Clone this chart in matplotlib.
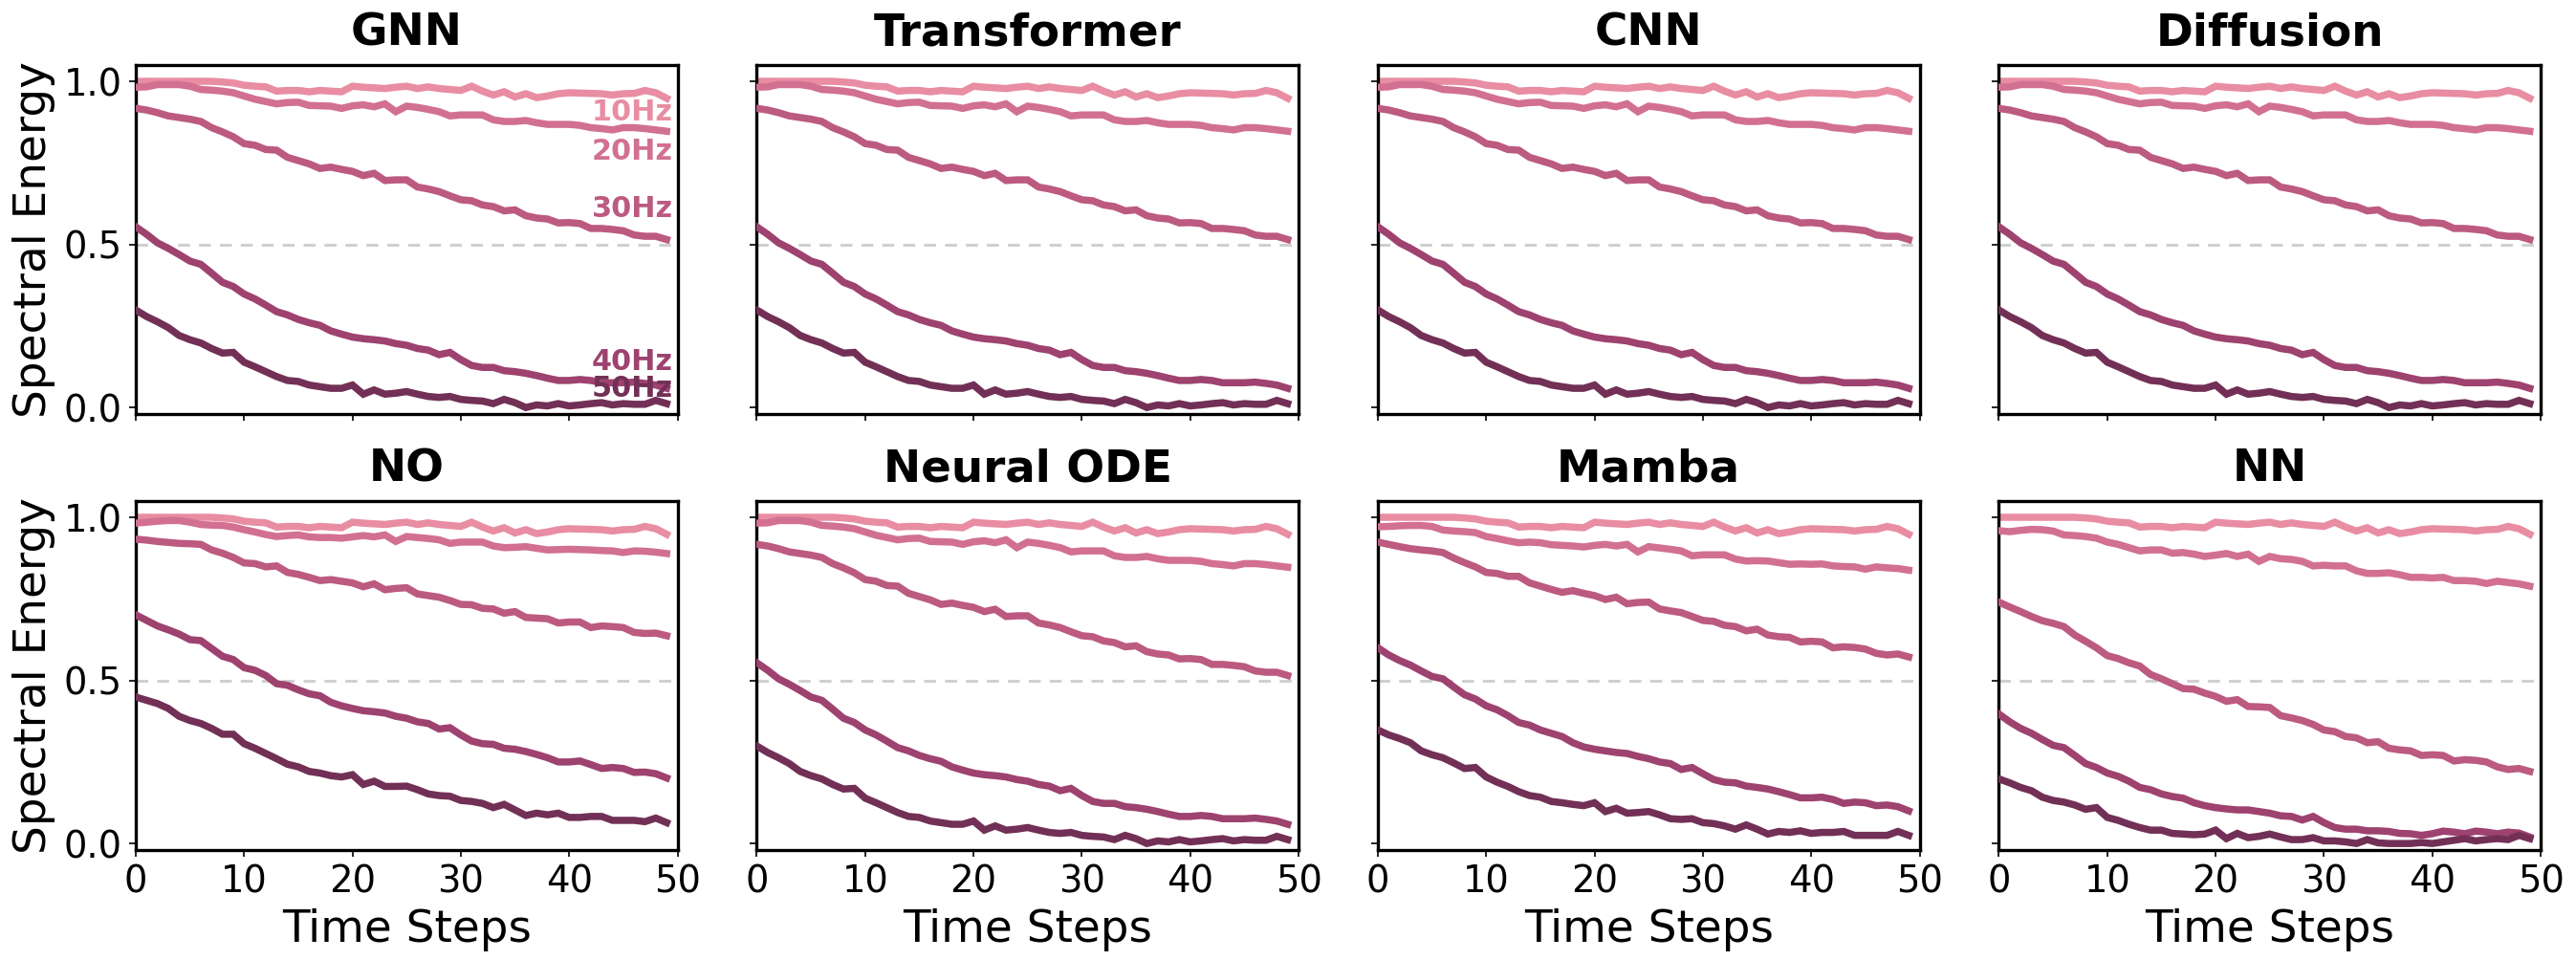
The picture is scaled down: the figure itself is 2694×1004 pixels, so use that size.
import numpy as np
import matplotlib
matplotlib.use("Agg")
import matplotlib.pyplot as plt

plt.rcParams['font.family'] = ['DejaVu Sans']

models = ["GNN", "Transformer", "CNN", "Diffusion", "NO", "Neural ODE", "Mamba", "NN"]
freq_labels = ["10Hz", "20Hz", "30Hz", "40Hz", "50Hz"]
colors = ["#E88DA2", "#D27092", "#BC5A80", "#9E426F", "#723056"]
time_steps = np.arange(50)

# shared 10Hz curve
e10 = [1.0, 1.0, 1.0, 1.0, 1.0, 1.0, 1.0, 1.0, 0.998, 0.995,
       0.988, 0.985, 0.983, 0.970, 0.972, 0.972, 0.968, 0.972, 0.970, 0.968,
       0.985, 0.982, 0.980, 0.978, 0.982, 0.985, 0.978, 0.983, 0.978, 0.975,
       0.972, 0.985, 0.970, 0.958, 0.968, 0.952, 0.962, 0.950, 0.955, 0.962,
       0.965, 0.964, 0.963, 0.962, 0.958, 0.962, 0.963, 0.972, 0.965, 0.948]

# GNN-like (GNN, Transformer, CNN, Diffusion, Neural ODE)
gnn_20 = [0.982, 0.983, 0.990, 0.990, 0.990, 0.985, 0.975, 0.973, 0.970, 0.965,
          0.955, 0.945, 0.938, 0.931, 0.935, 0.936, 0.926, 0.925, 0.924, 0.917,
          0.925, 0.928, 0.922, 0.931, 0.907, 0.924, 0.920, 0.914, 0.907, 0.894,
          0.897, 0.897, 0.897, 0.882, 0.877, 0.877, 0.880, 0.873, 0.868, 0.868,
          0.868, 0.865, 0.858, 0.855, 0.851, 0.858, 0.858, 0.855, 0.851, 0.847]
gnn_30 = [0.917, 0.912, 0.904, 0.894, 0.889, 0.884, 0.877, 0.858, 0.845, 0.830,
          0.809, 0.804, 0.791, 0.789, 0.767, 0.757, 0.747, 0.733, 0.737, 0.730,
          0.724, 0.711, 0.718, 0.696, 0.698, 0.698, 0.676, 0.670, 0.662, 0.649,
          0.637, 0.634, 0.621, 0.616, 0.603, 0.606, 0.588, 0.581, 0.578, 0.566,
          0.567, 0.564, 0.549, 0.549, 0.546, 0.542, 0.529, 0.525, 0.525, 0.515]
gnn_40 = [0.554, 0.531, 0.505, 0.488, 0.469, 0.449, 0.439, 0.412, 0.384, 0.371,
          0.348, 0.333, 0.314, 0.294, 0.284, 0.270, 0.260, 0.252, 0.235, 0.225,
          0.216, 0.211, 0.208, 0.204, 0.196, 0.191, 0.181, 0.176, 0.162, 0.169,
          0.147, 0.129, 0.123, 0.123, 0.113, 0.110, 0.105, 0.098, 0.090, 0.083,
          0.083, 0.086, 0.083, 0.076, 0.076, 0.076, 0.078, 0.074, 0.069, 0.059]
gnn_50 = [0.299, 0.279, 0.263, 0.245, 0.221, 0.208, 0.198, 0.181, 0.167, 0.169,
          0.139, 0.125, 0.110, 0.095, 0.083, 0.080, 0.069, 0.064, 0.059, 0.059,
          0.069, 0.041, 0.054, 0.041, 0.044, 0.049, 0.041, 0.034, 0.031, 0.034,
          0.025, 0.022, 0.020, 0.012, 0.025, 0.015, 0.000, 0.008, 0.005, 0.012,
          0.005, 0.008, 0.012, 0.015, 0.008, 0.012, 0.010, 0.010, 0.022, 0.012]

no_20 = [0.982, 0.985, 0.988, 0.990, 0.990, 0.985, 0.978, 0.976, 0.975, 0.970,
         0.962, 0.955, 0.947, 0.941, 0.944, 0.946, 0.940, 0.938, 0.938, 0.936,
         0.940, 0.944, 0.940, 0.946, 0.926, 0.941, 0.938, 0.935, 0.931, 0.920,
         0.924, 0.924, 0.924, 0.912, 0.907, 0.908, 0.910, 0.905, 0.900, 0.901,
         0.902, 0.901, 0.900, 0.898, 0.897, 0.892, 0.897, 0.896, 0.893, 0.889]
no_30 = [0.933, 0.930, 0.926, 0.923, 0.920, 0.919, 0.917, 0.900, 0.890, 0.877,
         0.860, 0.858, 0.848, 0.851, 0.831, 0.825, 0.816, 0.806, 0.809, 0.804,
         0.799, 0.787, 0.796, 0.778, 0.782, 0.784, 0.765, 0.760, 0.755, 0.745,
         0.733, 0.732, 0.721, 0.719, 0.706, 0.711, 0.693, 0.691, 0.689, 0.676,
         0.679, 0.679, 0.662, 0.667, 0.665, 0.662, 0.647, 0.644, 0.645, 0.637]
no_40 = [0.701, 0.684, 0.667, 0.655, 0.642, 0.625, 0.622, 0.598, 0.574, 0.564,
         0.539, 0.531, 0.515, 0.490, 0.485, 0.471, 0.459, 0.453, 0.433, 0.422,
         0.414, 0.407, 0.404, 0.400, 0.390, 0.384, 0.373, 0.368, 0.351, 0.355,
         0.333, 0.314, 0.306, 0.304, 0.292, 0.289, 0.282, 0.273, 0.263, 0.250,
         0.250, 0.253, 0.242, 0.230, 0.233, 0.230, 0.218, 0.219, 0.214, 0.201]
no_50 = [0.449, 0.439, 0.429, 0.414, 0.390, 0.377, 0.368, 0.353, 0.335, 0.335,
         0.306, 0.292, 0.276, 0.260, 0.243, 0.235, 0.221, 0.216, 0.208, 0.204,
         0.211, 0.181, 0.191, 0.175, 0.175, 0.176, 0.165, 0.152, 0.147, 0.145,
         0.132, 0.129, 0.123, 0.110, 0.120, 0.103, 0.086, 0.093, 0.088, 0.093,
         0.080, 0.080, 0.083, 0.083, 0.071, 0.071, 0.071, 0.067, 0.078, 0.064]

mamba_20 = [0.971, 0.972, 0.974, 0.975, 0.975, 0.972, 0.961, 0.958, 0.956, 0.953,
            0.941, 0.935, 0.928, 0.922, 0.924, 0.922, 0.916, 0.914, 0.912, 0.909,
            0.914, 0.917, 0.912, 0.917, 0.894, 0.910, 0.906, 0.902, 0.897, 0.882,
            0.885, 0.885, 0.885, 0.872, 0.866, 0.867, 0.866, 0.861, 0.856, 0.857,
            0.856, 0.857, 0.851, 0.849, 0.848, 0.841, 0.848, 0.845, 0.843, 0.838]
mamba_30 = [0.924, 0.917, 0.910, 0.904, 0.900, 0.897, 0.892, 0.875, 0.861, 0.848,
            0.831, 0.828, 0.819, 0.819, 0.799, 0.789, 0.779, 0.770, 0.775, 0.767,
            0.760, 0.748, 0.755, 0.735, 0.739, 0.740, 0.719, 0.713, 0.708, 0.696,
            0.684, 0.681, 0.669, 0.665, 0.652, 0.657, 0.639, 0.634, 0.632, 0.618,
            0.620, 0.618, 0.600, 0.603, 0.601, 0.596, 0.583, 0.578, 0.581, 0.572]
mamba_40 = [0.600, 0.578, 0.561, 0.547, 0.529, 0.512, 0.505, 0.480, 0.456, 0.443,
            0.422, 0.410, 0.392, 0.371, 0.363, 0.348, 0.338, 0.328, 0.309, 0.296,
            0.289, 0.284, 0.279, 0.276, 0.267, 0.260, 0.250, 0.245, 0.227, 0.233,
            0.214, 0.196, 0.188, 0.186, 0.176, 0.172, 0.167, 0.159, 0.150, 0.140,
            0.140, 0.142, 0.135, 0.123, 0.127, 0.125, 0.116, 0.118, 0.113, 0.100]
mamba_50 = [0.348, 0.333, 0.322, 0.309, 0.284, 0.272, 0.263, 0.247, 0.230, 0.233,
            0.204, 0.188, 0.175, 0.159, 0.147, 0.142, 0.129, 0.125, 0.120, 0.116,
            0.125, 0.098, 0.108, 0.093, 0.095, 0.098, 0.088, 0.076, 0.074, 0.076,
            0.064, 0.061, 0.054, 0.044, 0.057, 0.044, 0.029, 0.037, 0.034, 0.039,
            0.031, 0.034, 0.034, 0.037, 0.025, 0.025, 0.025, 0.025, 0.037, 0.025]

nn_20 = [0.959, 0.956, 0.960, 0.963, 0.962, 0.958, 0.946, 0.944, 0.941, 0.936,
         0.924, 0.917, 0.907, 0.897, 0.900, 0.900, 0.890, 0.892, 0.887, 0.880,
         0.884, 0.889, 0.880, 0.887, 0.865, 0.880, 0.873, 0.871, 0.865, 0.851,
         0.853, 0.851, 0.851, 0.836, 0.828, 0.828, 0.830, 0.824, 0.816, 0.816,
         0.814, 0.816, 0.806, 0.806, 0.804, 0.797, 0.804, 0.800, 0.796, 0.789]
nn_30 = [0.740, 0.725, 0.711, 0.696, 0.683, 0.675, 0.665, 0.639, 0.620, 0.600,
         0.576, 0.567, 0.554, 0.544, 0.518, 0.505, 0.490, 0.475, 0.473, 0.461,
         0.451, 0.436, 0.441, 0.420, 0.419, 0.417, 0.392, 0.385, 0.377, 0.365,
         0.348, 0.343, 0.328, 0.324, 0.309, 0.312, 0.292, 0.287, 0.284, 0.270,
         0.272, 0.270, 0.253, 0.257, 0.255, 0.250, 0.235, 0.227, 0.230, 0.221]
nn_40 = [0.397, 0.373, 0.353, 0.338, 0.319, 0.301, 0.294, 0.270, 0.245, 0.233,
         0.216, 0.206, 0.191, 0.172, 0.165, 0.152, 0.144, 0.139, 0.125, 0.116,
         0.110, 0.106, 0.103, 0.103, 0.098, 0.093, 0.085, 0.083, 0.072, 0.083,
         0.064, 0.049, 0.044, 0.044, 0.039, 0.039, 0.037, 0.031, 0.030, 0.025,
         0.030, 0.038, 0.035, 0.030, 0.038, 0.035, 0.030, 0.035, 0.032, 0.020]
nn_50 = [0.198, 0.186, 0.172, 0.162, 0.142, 0.132, 0.127, 0.118, 0.105, 0.110,
         0.080, 0.071, 0.059, 0.049, 0.041, 0.041, 0.031, 0.029, 0.027, 0.029,
         0.041, 0.015, 0.031, 0.018, 0.022, 0.029, 0.020, 0.012, 0.012, 0.018,
         0.008, 0.008, 0.005, 0.000, 0.012, 0.002, 0.000, 0.000, 0.000, 0.003,
         0.000, 0.005, 0.010, 0.015, 0.008, 0.012, 0.015, 0.012, 0.025, 0.015]

gnn_like = [e10, gnn_20, gnn_30, gnn_40, gnn_50]
series_by_model = {
    "GNN": gnn_like, "Transformer": gnn_like, "CNN": gnn_like,
    "Diffusion": gnn_like, "Neural ODE": gnn_like,
    "NO": [e10, no_20, no_30, no_40, no_50],
    "Mamba": [e10, mamba_20, mamba_30, mamba_40, mamba_50],
    "NN": [e10, nn_20, nn_30, nn_40, nn_50],
}

# inline label y positions (GNN panel only)
label_y = [0.905, 0.785, 0.61, 0.14, 0.058]

W, H = 2695, 1004
fig, axes = plt.subplots(2, 4, figsize=(W / 150, H / 150), dpi=150,
                         sharex=True, sharey=True)
fig.subplots_adjust(left=142 / W, right=2657 / W, top=1 - 68 / H,
                    bottom=1 - 889 / H, wspace=0.1465, hspace=0.249)

for idx, (ax, name) in enumerate(zip(axes.flat, models)):
    ax.axhline(0.5, color="#d0d0d0", ls=(0, (4, 3)), lw=1.5, zorder=1)
    for s, (vals, c) in enumerate(zip(series_by_model[name], colors)):
        ax.plot(time_steps, vals, color=c, lw=3.6, zorder=2 + s,
                solid_joinstyle="miter")
    if idx == 0:
        for lab, c, yy in zip(freq_labels, colors, label_y):
            ax.text(49.6, yy, lab, color=c, fontsize=14.5, fontweight="bold",
                    ha="right", va="center", zorder=10)
    ax.set_title(name, fontsize=22.5, fontweight="bold", pad=10)
    ax.set_xlim(0, 50)
    ax.set_ylim(-0.02, 1.05)
    ax.set_xticks([0, 10, 20, 30, 40, 50])
    ax.set_yticks([0.0, 0.5, 1.0])
    ax.tick_params(labelsize=18.5)
    for sp in ax.spines.values():
        sp.set_linewidth(1.6)
    if idx % 4 == 0:
        ax.set_ylabel("Spectral Energy", fontsize=22.5)
    if idx >= 4:
        ax.set_xlabel("Time Steps", fontsize=22.5)

fig.savefig("out.png", dpi=150)
